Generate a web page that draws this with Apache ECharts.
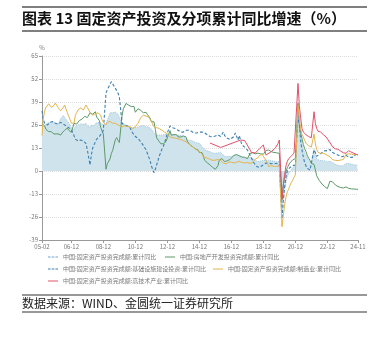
<!DOCTYPE html>
<html><head><meta charset="utf-8">
<script src="https://cdn.jsdelivr.net/npm/echarts@6/dist/echarts.min.js"></script>
<style>html,body{margin:0;padding:0;background:#fff}#c{width:388px;height:340px}</style>
</head><body><div id="c"></div>
<script>
// ---- data ----
const tickLabels = ['05-02','06-12','08-12','10-12','12-12','14-12','16-12','18-12','20-12','22-12','24-11'];
const yTicks = [-39,-26,-13,0,13,26,39,52,65];
const names = ['中国:固定资产投资完成额:累计同比','中国:房地产开发投资完成额:累计同比','中国:固定资产投资完成额:基础设施建设投资:累计同比','中国:固定资产投资完成额:制造业:累计同比','中国:固定资产投资完成额:高技术产业:累计同比'];
const fai = [
24.5,25.3,25.7,26.4,27.1,27.2,27.4,27.7,27.6,27.8,27.2,
null,26.6,27.7,29.6,30.3,31.3,30.5,29.1,28.2,27.3,26.6,24.5,
null,23.4,25.3,25.5,25.9,26.7,26.6,26.7,26.4,26.9,26.8,25.8,
null,24.3,25.9,25.7,25.6,26.8,27.3,27.4,27.6,27.2,26.8,26.1,
null,26.5,28.8,30.5,32.9,33.6,32.9,33.0,33.3,33.1,32.1,30.5,
null,26.6,26.4,26.1,25.9,25.5,24.9,24.8,24.5,24.4,24.9,24.5,
null,24.9,25.0,25.4,25.8,25.6,25.4,25.0,24.9,24.9,24.5,23.8,
null,21.5,20.9,20.2,20.1,20.4,20.4,20.2,20.5,20.7,20.7,20.6,
null,21.2,20.9,20.6,20.4,20.1,20.1,20.3,20.2,20.1,19.9,19.6,
null,17.9,17.6,17.3,17.2,17.3,17.0,16.5,16.1,15.9,15.8,15.7,
null,13.9,13.5,12.0,11.4,11.4,11.2,10.9,10.3,10.2,10.2,10.0,
null,10.2,10.7,10.5,9.6,9.0,8.1,8.1,8.2,8.3,8.3,8.1,
null,8.9,9.2,8.9,8.6,8.6,8.3,7.8,7.5,7.3,7.2,7.2,
null,7.9,7.5,7.0,6.1,6.0,5.5,5.3,5.4,5.7,5.9,5.9,
null,6.1,6.3,6.1,5.6,5.8,5.7,5.5,5.4,5.2,5.2,5.4,
null,-24.5,-16.1,-10.3,-6.3,-3.1,-1.6,-0.3,0.8,1.8,2.6,2.9,
null,35.0,25.6,19.9,15.4,12.6,10.3,8.9,7.3,6.1,5.2,4.9,
null,12.2,9.3,6.8,6.2,6.1,5.7,5.8,5.9,5.8,5.3,5.1,
null,5.5,5.1,4.7,4.0,3.8,3.4,3.2,3.1,2.9,2.9,3.0,
null,4.2,4.5,4.2,4.0,3.9,3.6,3.4,3.4,3.4,3.3];
const realEstate = [
26.8,26.7,25.5,23.5,23.5,22.3,21.8,22.2,21.5,20.9,19.8,
null,21,20.2,20.3,21.5,22.5,23,23.6,24.3,23.1,22.8,21.8,
null,26.9,26.9,26.5,26.9,28.5,28.6,29.3,30.3,30.9,31.8,30.2,
null,32.9,32.1,32.1,31.9,33.5,30.5,29.8,28.5,24.6,22.7,20.9,
null,1.0,4.1,4.9,6.8,9.9,11.6,14.7,17.7,18.9,17.3,16.1,
null,31.1,35.1,36.2,38.2,38.1,37.2,36.7,36.4,36.5,36.5,33.2,
null,35.2,34.1,34.3,34.6,32.9,33.6,33.2,32.0,31.1,29.9,27.9,
null,27.8,23.5,18.7,18.5,16.6,15.4,15.6,15.4,15.4,16.7,16.2,
null,22.8,20.2,21.1,20.6,20.3,20.5,19.3,19.7,19.2,19.5,19.8,
null,19.3,16.8,16.4,14.7,14.1,13.7,13.2,12.5,12.4,11.9,10.5,
null,10.4,8.5,6.0,5.1,4.6,4.3,3.5,2.6,2.0,1.3,1.0,
null,3.0,6.2,7.2,7.0,6.1,5.3,5.4,5.8,6.6,6.5,6.9,
null,8.9,9.1,9.3,8.8,8.5,7.9,7.9,8.1,7.8,7.5,7.0,
null,9.9,10.4,10.3,10.2,9.7,10.2,10.1,9.9,9.7,9.7,9.5,
null,11.6,11.8,11.9,11.2,10.9,10.6,10.5,10.5,10.3,10.2,9.9,
null,-16.3,-7.7,-3.3,-0.3,1.9,3.4,4.6,5.6,6.3,6.8,7.0,
null,38.3,25.6,21.6,18.3,15.0,12.7,10.9,8.8,7.2,6.0,4.4,
null,3.7,0.7,-2.7,-4.0,-5.4,-6.4,-7.4,-8.0,-8.8,-9.8,-10.0,
null,-5.7,-5.8,-6.2,-7.2,-7.9,-8.5,-8.8,-9.1,-9.3,-9.4,-9.6,
null,-9.0,-9.5,-9.8,-10.1,-10.1,-10.2,-10.2,-10.1,-10.3,-10.4];
const infra = [
34,29,27,26.5,26,26.5,27.5,28,28,27.5,27,
null,26.5,27,27.5,27,26.5,26,25.5,25,24.5,24,23.5,
null,20,18,17,17,17.5,17.5,17.5,17,16.5,15.5,12,
null,3.4,9,13,14.7,16.5,18,18.6,19.5,20.5,21.5,23,
null,44,46,47.5,49,50.5,49.5,48,47,45.5,44,42,
null,27,26.5,26,26,25.5,25,24.5,23,21.5,20.5,19.5,
null,18.5,17.5,16.5,15.5,14.5,13.6,12,10,8,6,3,
null,-1,1,3.5,6,8.5,10.5,12.5,14,16,18.5,21.5,
null,25.5,25,24.5,24,24,23.5,23,22.5,22,22,22,
null,23,23.5,23,23,22.5,22,21.5,21.5,21.5,21.8,22,
null,22,21.5,21.5,21,20.5,20,19.5,19.3,19.3,19.5,19.8,
null,20.4,20,19.5,20.5,22,20,19,18.5,18,17.8,17.5,
null,19.5,21.5,19.5,17.5,20,17,14.7,14,13.5,12.8,12,
null,9,7.5,6,4.5,3.4,2.5,1.7,2,2.5,3,3.5,
null,4.5,4.4,4.4,4,4.1,3.8,4.2,4.5,4.2,3.5,3.8,
null,-26.9,-16.4,-8.8,-3.3,0.1,1.2,2.0,2.4,3.0,3.3,3.4,
null,31,26.9,16.8,11.8,7.8,4.6,2.9,1.5,1.0,0.5,0.2,
null,12,10.5,8.3,8.2,9.3,9.6,10.4,11.2,11.4,11.6,11.5,
null,12.2,10.8,9.8,10.1,10.7,9.4,9.0,8.6,8.3,8.0,8.2,
null,9.0,8.8,7.8,6.7,7.7,8.0,7.9,9.3,9.4,9.4];
const manuf = [
20,30,34,36,37,38,38.4,36,35.6,37,38.4,
null,36,35,34,34.5,36,37.3,35,33,31,29,27,
null,27,31.5,33,34.5,35.5,35.6,35,34.5,35,37.3,36,
null,33,32,31.5,31.6,32.5,33,32.8,32.5,31.6,29,27.5,
null,26,27.5,28,28,27.5,27,27,27,26.5,26,26,
null,25,25.5,25.5,25.5,25.2,25,25,24.5,24,24.5,25,
null,27,28.5,30,31,31.6,31.6,31,30.5,30.5,30,28,
null,25,25,24.5,24,24,23.5,23,22.5,22,21.5,21,
null,19.3,19,18.8,18.6,18.6,18.4,18.2,18,17.8,17.5,17.2,
null,16.5,15.8,15.3,14.8,14.3,13.6,13,12.5,12,11.5,11,
null,9.5,8,7.8,7.5,7.3,7,6.5,6.2,6,6,6,
null,6.5,6.2,6,5,4.5,4,4,4.5,5,5,5,
null,4.5,5.5,5,5,5.5,5,4.8,4.5,4.5,4.5,4.8,
null,4.3,3.8,4.8,5.2,6.8,7.3,7.5,8.7,9.1,9.5,9.5,
null,5.9,4.6,2.5,2.7,3.0,3.3,2.6,2.5,2.6,2.5,3.1,
null,-31.5,-25.2,-18.8,-14.8,-11.7,-10.2,-8.1,-6.5,-5.3,-3.5,-2.2,
null,37.3,29.8,23.8,20.4,19.2,17.3,15.7,14.8,14.2,13.7,13.5,
null,20.9,15.6,12.2,10.6,10.4,9.9,10.0,10.1,9.7,9.3,9.1,
null,8.1,7.0,6.4,6.0,6.0,5.7,5.9,6.2,6.2,6.3,6.5,
null,9.4,9.9,9.7,9.6,9.5,9.3,9.1,9.2,9.3,9.3];
const hiTech = [
['15-08',15.8],['16-04',13.3],['17-07',17.5],['17-10',17.2],['18-02',12],['18-03',10.5],['18-06',10.2],['18-09',12.5],['18-12',14.7],
['19-02',9],['19-03',9.5],['19-06',11],['19-09',13],['19-11',15.5],['19-12',17.5],
['20-02',-16],['20-03',-8],['20-04',-2],['20-05',3],['20-06',5.5],['20-07',7],['20-08',7.5],['20-09',8.5],['20-10',9],['20-11',10],['20-12',10.6],
['21-02',49.5],['21-03',37],['21-04',30],['21-05',24],['21-06',22],['21-07',21],['21-08',20.5],['21-09',20],['21-10',19.5],['21-11',19.3],['21-12',18.8],
['22-02',33.5],['22-03',27],['22-04',24],['22-05',22.5],['22-06',23],['22-07',22],['22-08',21],['22-09',20.5],['22-10',19.5],['22-11',19.3],['22-12',18.9],
['23-02',16],['23-03',15.5],['23-04',13.6],['23-05',13],['23-06',12.5],['23-07',12.5],['23-08',12.3],['23-09',11.5],['23-10',11.2],['23-11',10.5],['23-12',10.3],
['24-02',10],['24-03',10.7],['24-04',11.5],['24-05',11],['24-06',10.6],['24-07',10.2],['24-08',10],['24-09',9.4],['24-10',9.3],['24-11',9]];

// categories: monthly 2005-02 .. 2024-11
const months = [];
for (let y = 2005; y <= 2024; y++) {
  for (let m = 1; m <= 12; m++) {
    if (y === 2005 && m < 2) continue;
    if (y === 2024 && m > 11) break;
    months.push(String(y % 100).padStart(2,'0') + '-' + String(m).padStart(2,'0'));
  }
}

const FONT = '"Noto Sans CJK SC","Noto Sans",sans-serif';
const showIdx = (i) => tickLabels.indexOf(months[i]) >= 0;
const C = {fai:'#6fa6cc', faiFill:'#cfe3ed', infra:'#3d7fae', re:'#5c9a68', mf:'#e3b44c', ht:'#e2506a'};
const ICON_SOLID = 'path://M0,0H10V1H0Z';
const ICON_DASH = 'path://M0,0H2.6V1H0Z M3.7,0H6.3V1H3.7Z M7.4,0H10V1H7.4Z';

function lg(name, icon, left, top){
  return {data:[{name:name, icon:icon}], left:left, top:top, itemWidth:10, itemHeight:1.3, itemGap:4, padding:0,
    textStyle:{fontSize:6, color:'#777', fontFamily:FONT}};
}

const chart = echarts.init(document.getElementById('c'), null, {renderer:'canvas'});
chart.setOption({
  animation:false,
  backgroundColor:'#fff',
  textStyle:{fontFamily:FONT},
  grid:{left:42, right:30, top:56, bottom:100, containLabel:false},
  legend:[lg(names[0],ICON_DASH,48,254), lg(names[1],ICON_SOLID,165,254), lg(names[2],ICON_DASH,48,266), lg(names[3],ICON_SOLID,213,266), lg(names[4],ICON_SOLID,48,278)],
  xAxis:{type:'category', data:months, boundaryGap:false,
    axisLine:{onZero:false, lineStyle:{color:'#999', width:1}},
    axisTick:{show:true, interval:(i)=>showIdx(i), length:3, lineStyle:{color:'#999'}},
    axisLabel:{interval:(i)=>showIdx(i), fontSize:6, color:'#777', margin:4, fontFamily:FONT},
    splitLine:{show:false}},
  yAxis:{type:'value', min:-39, max:65, interval:13, name:'%', nameGap:5,
    nameTextStyle:{fontSize:6, color:'#777', align:'center', fontFamily:FONT},
    axisLine:{show:true, lineStyle:{color:'#999'}},
    axisTick:{show:true, length:3, lineStyle:{color:'#999'}},
    axisLabel:{fontSize:6, color:'#777', margin:4, fontFamily:FONT},
    splitLine:{show:true, lineStyle:{color:'#ddd', type:'dotted', width:1}}},
  series:[
    {name:names[0], type:'line', data:fai, connectNulls:true, symbol:'none', z:1,
      lineStyle:{color:'#9cc6dc', width:1, type:'dotted'}, itemStyle:{color:C.fai},
      areaStyle:{color:C.faiFill, opacity:1}},
    {name:names[2], type:'line', data:infra, connectNulls:true, symbol:'none', z:3,
      lineStyle:{color:C.infra, width:1.1, type:[3,2]}, itemStyle:{color:C.infra}},
    {name:names[1], type:'line', data:realEstate, connectNulls:true, symbol:'none', z:2,
      lineStyle:{color:C.re, width:1}, itemStyle:{color:C.re}},
    {name:names[3], type:'line', data:manuf, connectNulls:true, symbol:'none', z:4,
      lineStyle:{color:C.mf, width:1}, itemStyle:{color:C.mf}},
    {name:names[4], type:'line', data:hiTech, connectNulls:true, symbol:'none', z:5,
      lineStyle:{color:C.ht, width:1}, itemStyle:{color:C.ht}}
  ],
  graphic:[
    {type:'line', shape:{x1:22,y1:7,x2:367,y2:7}, style:{stroke:'#555', lineWidth:1.5}},
    {type:'text', left:22, top:11, style:{text:'图表 13 固定资产投资及分项累计同比增速（%）', font:'bold 15px '+FONT, fill:'#111'}},
    {type:'line', shape:{x1:22,y1:31,x2:367,y2:31}, style:{stroke:'#555', lineWidth:1.5}},
    {type:'line', shape:{x1:22,y1:295,x2:367,y2:295}, style:{stroke:'#333', lineWidth:1.2}},
    {type:'text', left:22, top:297, style:{text:'数据来源：WIND、金圆统一证券研究所', font:'12px '+FONT, fill:'#222'}},
    {type:'line', shape:{x1:22,y1:312,x2:367,y2:312}, style:{stroke:'#333', lineWidth:1.2}}
  ]
});
</script></body></html>
